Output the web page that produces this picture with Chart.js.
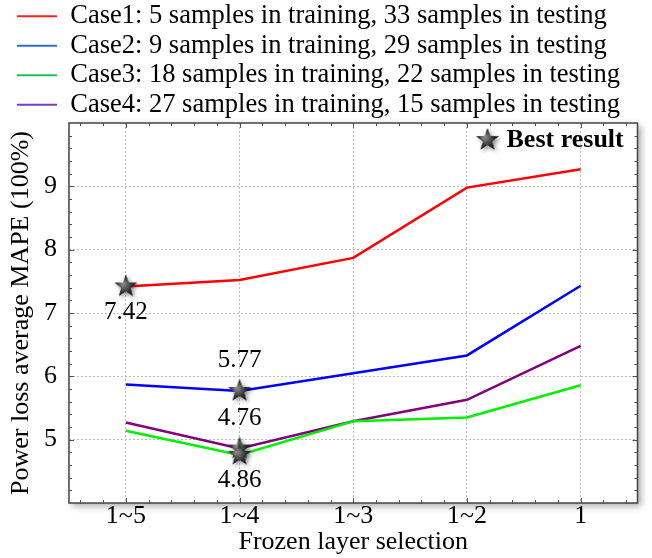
<!DOCTYPE html>
<html>
<head>
<meta charset="utf-8">
<script src="https://cdn.jsdelivr.net/npm/chart.js@4"></script>
<style>
  html, body { margin: 0; padding: 0; background: #fff; }
  #wrap { width: 652px; height: 558px; }
</style>
</head>
<body>
<div id="wrap"><canvas id="c"></canvas></div>
<script>
// --- data ---
const categories = ["1~5", "1~4", "1~3", "1~2", "1"];
const caseNames = [
  "Case1: 5 samples in training, 33 samples in testing",
  "Case2: 9 samples in training, 29 samples in testing",
  "Case3: 18 samples in training, 22 samples in testing",
  "Case4: 27 samples in training, 15 samples in testing"
];
const case1 = [7.42, 7.52, 7.87, 8.98, 9.27];
const case2 = [5.87, 5.77, 6.05, 6.33, 7.43];
const case3 = [5.14, 4.76, 5.29, 5.35, 5.86];
const case4 = [5.27, 4.86, 5.29, 5.63, 6.48];
const bestIndex = [0, 1, 1, 1];
const yTicks = [5, 6, 7, 8, 9];

// --- styles ---
const lineColors = ["#ff0000", "#0000ff", "#00f000", "#800080"];
const legendColors = ["#ff2020", "#2a70d8", "#20c050", "#7a3cc0"];
const labelOffsets = [26, -30, -36, 32];
const serif = "'Liberation Serif', 'Times New Roman', serif";

// metallic star used as point image
function makeStar() {
  const cv = document.createElement("canvas");
  cv.width = 34; cv.height = 34;
  const g = cv.getContext("2d");
  const cx = 17, cy = 17, R = 12, r = 5;
  g.beginPath();
  for (let i = 0; i < 10; i++) {
    const rad = i % 2 === 0 ? R : r;
    const a = -Math.PI / 2 + i * Math.PI / 5;
    g.lineTo(cx + rad * Math.cos(a), cy + rad * Math.sin(a));
  }
  g.closePath();
  const grad = g.createRadialGradient(cx - 3, cy - 3, 1, cx, cy, R);
  grad.addColorStop(0, "#8a8a8a");
  grad.addColorStop(0.6, "#2a2a2a");
  grad.addColorStop(1, "#111");
  g.shadowColor = "rgba(0,0,0,0.45)";
  g.shadowBlur = 4;
  g.shadowOffsetX = 2;
  g.shadowOffsetY = 2;
  g.fillStyle = grad;
  g.fill();
  return cv;
}
const star = makeStar();

const allCases = [case1, case2, case3, case4];
const datasets = allCases.map((vals, k) => ({
  label: caseNames[k],
  data: vals,
  borderColor: lineColors[k],
  backgroundColor: lineColors[k],
  borderWidth: 2.5,
  tension: 0,
  pointStyle: (ctx) => ctx.dataIndex === bestIndex[k] ? star : "circle",
  pointRadius: (ctx) => ctx.dataIndex === bestIndex[k] ? 12 : 0,
  pointHoverRadius: 0,
  clip: false
}));

// legend sits a bit tighter over the plot
const legendFit = {
  id: "legendFit",
  beforeInit(chart) {
    const fit = chart.legend.fit;
    chart.legend.fit = function () {
      fit.bind(chart.legend)();
      this.height -= 5;
    };
  }
};

// frame with shadow, inward ticks, labels, "Best result" note
const decor = {
  id: "decor",
  beforeDraw(chart) {
    const { ctx, chartArea: a } = chart;
    ctx.save();
    ctx.shadowColor = "rgba(0,0,0,0.35)";
    ctx.shadowBlur = 7;
    ctx.shadowOffsetX = 3;
    ctx.shadowOffsetY = 3;
    ctx.fillStyle = "#fff";
    ctx.fillRect(a.left, a.top, a.right - a.left, a.bottom - a.top);
    ctx.restore();
  },
  beforeDatasetsDraw(chart) {
    const { ctx, chartArea: a, scales } = chart;
    const xs = scales.x, ys = scales.y;
    ctx.save();
    ctx.strokeStyle = "#555";
    ctx.lineWidth = 1;
    ctx.beginPath();
    for (let v = -0.4; v < categories.length - 0.5; v += 0.2) {
      const px = Math.round(xs.getPixelForValue(v)) + 0.5;
      const len = Math.abs(v - Math.round(v)) < 0.01 ? 5 : 3;
      ctx.moveTo(px, a.bottom); ctx.lineTo(px, a.bottom - len);
      ctx.moveTo(px, a.top); ctx.lineTo(px, a.top + len);
    }
    for (let v = ys.min + 0.2; v < ys.max - 0.01; v += 0.2) {
      const py = Math.round(ys.getPixelForValue(v)) + 0.5;
      const len = Math.abs(v - Math.round(v)) < 0.01 ? 5 : 3;
      ctx.moveTo(a.left, py); ctx.lineTo(a.left + len, py);
      ctx.moveTo(a.right, py); ctx.lineTo(a.right - len, py);
    }
    ctx.stroke();
    ctx.lineWidth = 1.5;
    ctx.strokeStyle = "#444";
    ctx.strokeRect(a.left, a.top, a.right - a.left, a.bottom - a.top);
    ctx.restore();
  },
  afterDatasetsDraw(chart) {
    const { ctx, chartArea: a } = chart;
    ctx.save();
    ctx.fillStyle = "#000";
    ctx.font = "25px " + serif;
    ctx.textAlign = "center";
    ctx.textBaseline = "middle";
    allCases.forEach((vals, k) => {
      const pt = chart.getDatasetMeta(k).data[bestIndex[k]];
      ctx.fillText(vals[bestIndex[k]].toFixed(2), pt.x, pt.y + labelOffsets[k]);
    });
    // legend note for the star
    ctx.drawImage(star, a.right - 150 - 17, a.top + 17 - 17);
    ctx.font = "bold 26px " + serif;
    ctx.textAlign = "left";
    ctx.fillText("Best result", a.right - 131, a.top + 17);
    ctx.restore();
  }
};

new Chart(document.getElementById("c"), {
  type: "line",
  data: { labels: categories, datasets },
  options: {
    responsive: true,
    maintainAspectRatio: false,
    animation: false,
    events: [],
    layout: { padding: { left: 14, right: 14, top: 0, bottom: 0 } },
    plugins: {
      tooltip: { enabled: false },
      legend: {
        position: "top",
        align: "start",
        labels: {
          boxWidth: 40,
          boxHeight: 2,
          padding: 3,
          color: "#000",
          font: { family: serif, size: 26.5 },
          generateLabels: (chart) => caseNames.map((name, k) => ({
            text: name,
            fillStyle: legendColors[k],
            strokeStyle: legendColors[k],
            lineWidth: 0,
            datasetIndex: k
          }))
        }
      }
    },
    scales: {
      x: {
        type: "category",
        offset: true,
        afterFit: (s) => { s.height = 55; },
        grid: { offset: false, color: "#bdbdbd", drawTicks: false },
        border: { display: false, dash: [2, 2] },
        ticks: { color: "#000", padding: 0, font: { family: serif, size: 26, lineHeight: 1 } },
        title: { display: true, text: "Frozen layer selection", color: "#000",
                 font: { family: serif, size: 26 }, padding: { top: 0, bottom: 0 } }
      },
      y: {
        min: 4,
        max: 10,
        afterBuildTicks: (s) => { s.ticks = yTicks.map(v => ({ value: v })); },
        afterFit: (s) => { s.width = 55; },
        grid: { color: "#bdbdbd", drawTicks: false },
        border: { display: false, dash: [2, 2] },
        ticks: { color: "#000", padding: 12, font: { family: serif, size: 26 } },
        title: { display: true, text: "Power loss average MAPE (100%)", color: "#000",
                 font: { family: serif, size: 26 }, padding: { top: -8, bottom: 0 } }
      }
    }
  },
  plugins: [legendFit, decor]
});
</script>
</body>
</html>
